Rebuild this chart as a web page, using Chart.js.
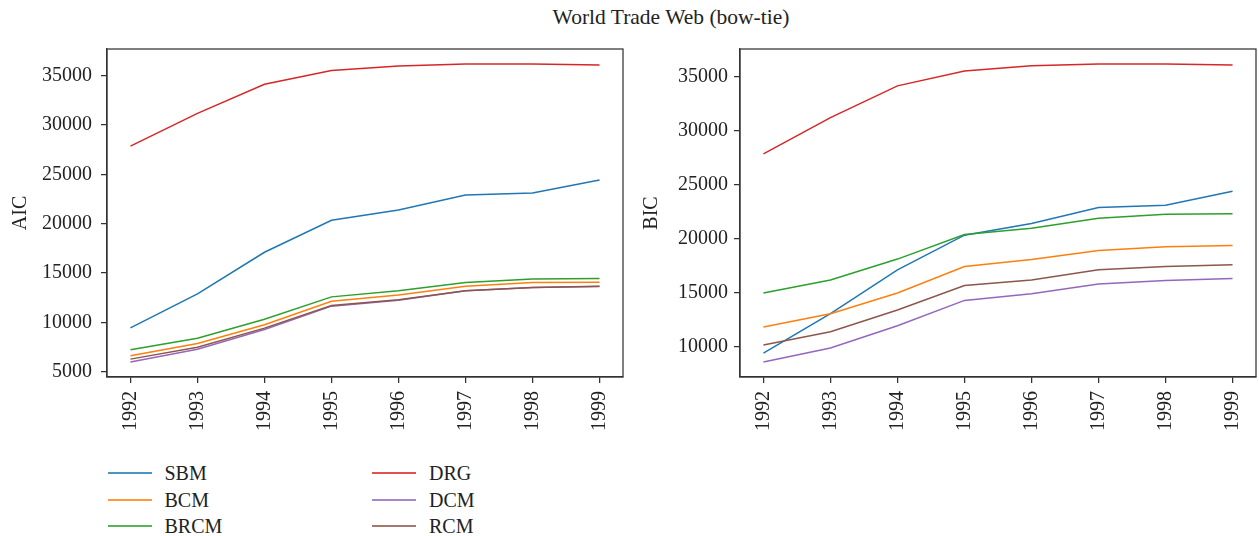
<!DOCTYPE html>
<html>
<head>
<meta charset="utf-8">
<script src="https://cdn.jsdelivr.net/npm/chart.js@4"></script>
<style>
  html, body { margin: 0; padding: 0; background: #fff; }
  body { width: 1259px; height: 536px; position: relative; overflow: hidden; font-family: "Liberation Serif", "DejaVu Serif", serif; color: #222; }
  #title { position: absolute; left: 0; width: 1342px; top: 5px; text-align: center; font-size: 21.5px; line-height: 24px; }
  .box { position: absolute; top: 0; height: 440px; }
  #boxA { left: 0; width: 640px; }
  #boxB { left: 640px; width: 619px; }
  .leg { position: absolute; font-size: 20px; line-height: 22px; }
  .legline { position: absolute; height: 2px; opacity: 0.8; }
</style>
</head>
<body>
<div id="title">World Trade Web (bow-tie)</div>
<div class="box" id="boxA"><canvas id="cA"></canvas></div>
<div class="box" id="boxB"><canvas id="cB"></canvas></div>
<div id="legend"></div>
<script>
const years = [1992, 1993, 1994, 1995, 1996, 1997, 1998, 1999];
const seriesNames = ["SBM", "BCM", "BRCM", "DRG", "DCM", "RCM"];
const seriesColors = ["#1f77b4", "#ff7f0e", "#2ca02c", "#d62728", "#9467bd", "#8c564b"];

const aicSBM  = [9450, 12890, 17110, 20350, 21400, 22920, 23120, 24430];
const aicBCM  = [6620, 7870, 9760, 12150, 12790, 13670, 14040, 14080];
const aicBRCM = [7220, 8400, 10330, 12590, 13200, 14040, 14410, 14450];
const aicDRG  = [27870, 31190, 34130, 35530, 35980, 36190, 36200, 36100];
const aicDCM  = [5980, 7290, 9280, 11650, 12250, 13200, 13530, 13640];
const aicRCM  = [6280, 7490, 9420, 11710, 12290, 13200, 13540, 13670];

const bicSBM  = [9440, 13080, 17140, 20340, 21420, 22900, 23110, 24410];
const bicBCM  = [11850, 13080, 14990, 17450, 18100, 18930, 19270, 19390];
const bicBRCM = [14990, 16190, 18130, 20410, 20990, 21910, 22280, 22310];
const bicDRG  = [27860, 31210, 34140, 35520, 35990, 36170, 36170, 36080];
const bicDCM  = [8610, 9910, 11970, 14310, 14930, 15820, 16160, 16340];
const bicRCM  = [10180, 11410, 13420, 15690, 16190, 17140, 17450, 17600];

const aicTicks = [5000, 10000, 15000, 20000, 25000, 30000, 35000];
const bicTicks = [10000, 15000, 20000, 25000, 30000, 35000];

const FONT = "'Liberation Serif', 'DejaVu Serif', serif";
const AXC = "#333333";

const framePlugin = {
  id: "frame",
  afterDatasetsDraw(chart) {
    const a = chart.chartArea, ctx = chart.ctx;
    ctx.save();
    ctx.strokeStyle = AXC;
    ctx.lineWidth = 1.25;
    ctx.strokeRect(a.left, a.top, a.right - a.left, a.bottom - a.top);
    ctx.restore();
  }
};

function makeChart(id, seriesList, tickVals, yTitle, opts) {
  const all = seriesList.flat();
  const mn = Math.min(...all), mx = Math.max(...all);
  const pad = (mx - mn) * 0.05;
  const datasets = seriesList.map((vals, i) => ({
    label: seriesNames[i],
    data: years.map((y, j) => ({ x: y, y: vals[j] })),
    borderColor: seriesColors[i],
    backgroundColor: seriesColors[i],
    borderWidth: 1.5,
    pointRadius: 0,
    tension: 0,
    order: seriesList.length - i
  }));
  return new Chart(document.getElementById(id), {
    type: "line",
    data: { datasets },
    plugins: [framePlugin],
    options: {
      responsive: true,
      maintainAspectRatio: false,
      animation: false,
      devicePixelRatio: 1,
      layout: { padding: { top: 49, left: 0, right: opts.padRight, bottom: 0 } },
      plugins: { legend: { display: false }, tooltip: { enabled: false }, title: { display: false } },
      scales: {
        x: {
          type: "linear",
          min: years[0] - 0.35,
          max: years[years.length - 1] + 0.35,
          afterBuildTicks: s => { s.ticks = years.map(v => ({ value: v })); },
          afterFit: s => { s.height = 440 - 49 - 328; s.paddingLeft = 0; s.paddingRight = 0; },
          ticks: {
            color: "#222", font: { family: FONT, size: 20 },
            maxRotation: 90, minRotation: 90, padding: 8, autoSkip: false,
            callback: v => String(v)
          },
          grid: { drawOnChartArea: false, drawTicks: true, tickLength: 6, color: AXC, lineWidth: 1.25 },
          border: { display: true, color: AXC, width: 1.25 }
        },
        y: {
          type: "linear",
          min: mn - pad,
          max: mx + pad,
          afterBuildTicks: s => { s.ticks = tickVals.map(v => ({ value: v })); },
          afterFit: s => { s.width = opts.yWidth; s.paddingTop = 0; s.paddingBottom = 0; },
          ticks: {
            color: "#222", font: { family: FONT, size: 20 }, padding: opts.tickPad,
            callback: v => String(v)
          },
          title: { display: true, text: yTitle, color: "#222", font: { family: FONT, size: 20 }, padding: { top: opts.titlePad, bottom: 0 } },
          grid: { drawOnChartArea: false, drawTicks: true, tickLength: 6, color: AXC, lineWidth: 1.25 },
          border: { display: true, color: AXC, width: 1.25 }
        }
      }
    }
  });
}

makeChart("cA", [aicSBM, aicBCM, aicBRCM, aicDRG, aicDCM, aicRCM], aicTicks, "AIC", { yWidth: 107, padRight: 17, titlePad: 9, tickPad: 9 });
makeChart("cB", [bicSBM, bicBCM, bicBRCM, bicDRG, bicDCM, bicRCM], bicTicks, "BIC", { yWidth: 100, padRight: 3, titlePad: 0, tickPad: 6 });

// legend (two columns, column-major)
const legend = document.getElementById("legend");
const colX = [107.5, 372];
const rowY = [473, 499.5, 526];
seriesNames.forEach((name, i) => {
  const c = Math.floor(i / 3), r = i % 3;
  const ln = document.createElement("div");
  ln.className = "legline";
  ln.style.left = colX[c] + "px";
  ln.style.width = "44px";
  ln.style.top = (rowY[r] - 1) + "px";
  ln.style.background = seriesColors[i];
  legend.appendChild(ln);
  const tx = document.createElement("div");
  tx.className = "leg";
  tx.textContent = name;
  tx.style.left = (colX[c] + 57) + "px";
  tx.style.top = (rowY[r] - 11) + "px";
  legend.appendChild(tx);
});
</script>
</body>
</html>
